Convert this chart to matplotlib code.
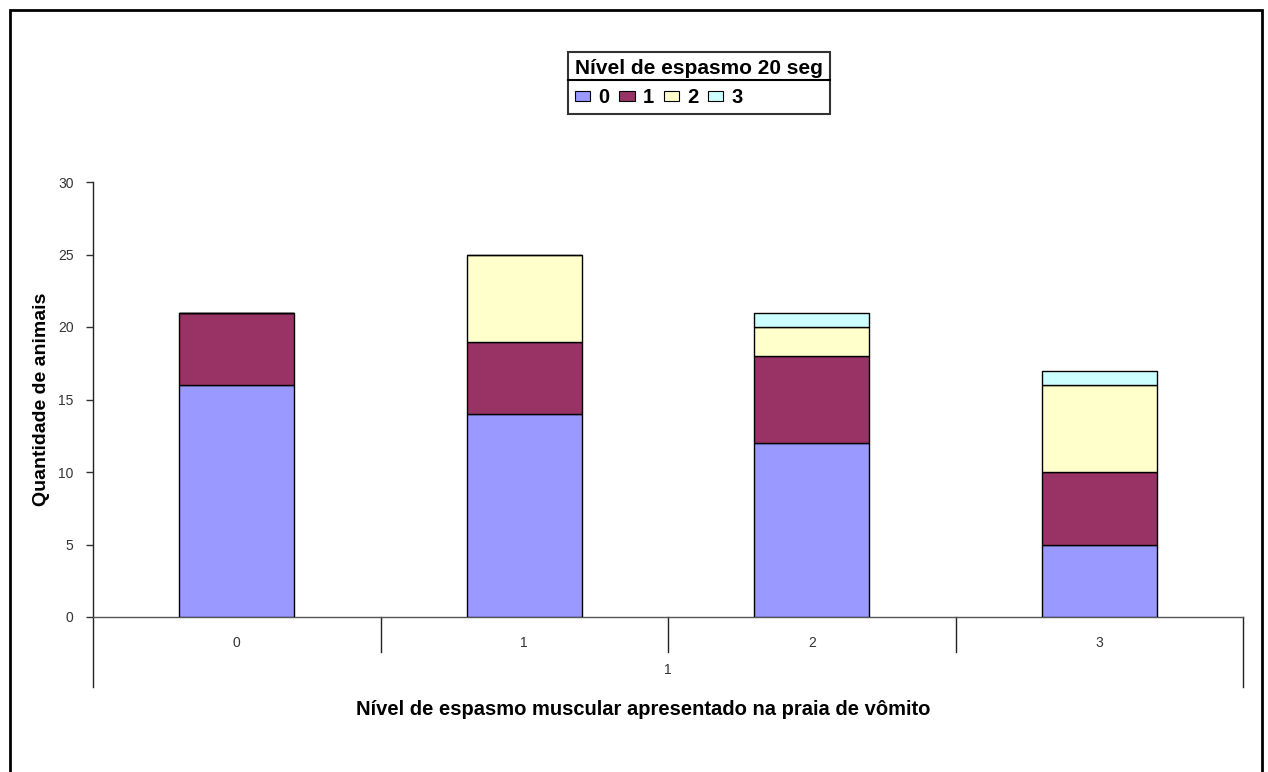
import matplotlib
matplotlib.use("Agg")
import matplotlib.pyplot as plt
from matplotlib.patches import Patch, Rectangle
from matplotlib.lines import Line2D
import numpy as np

plt.rcParams['font.family'] = ['Liberation Sans', 'DejaVu Sans']

categories = ['0', '1', '2', '3']
series_names = ['0', '1', '2', '3']
nivel_0 = [16, 14, 12, 5]
nivel_1 = [5, 5, 6, 5]
nivel_2 = [0, 6, 2, 6]
nivel_3 = [0, 0, 1, 1]
colors = ['#9999FF', '#993366', '#FFFFCC', '#CCFFFF']

fig = plt.figure(figsize=(12.68, 7.72), dpi=100)
W, H = 1268, 772
ax = fig.add_axes([93 / W, (H - 617) / H, 1150 / W, 435 / H])

x = np.arange(len(categories))
bottom = np.zeros(len(categories))
for vals, col in zip([nivel_0, nivel_1, nivel_2, nivel_3], colors):
    vals = np.array(vals, dtype=float)
    ax.bar(x, vals, width=0.4, bottom=bottom, color=col, edgecolor='black',
           linewidth=1.0, zorder=3)
    bottom += vals

ax.set_xlim(-0.5, 3.5)
ax.set_ylim(0, 30)
ax.set_yticks([0, 5, 10, 15, 20, 25, 30])
ax.tick_params(axis='y', length=5, width=1, colors='#333333', labelsize=10, pad=9)
ax.set_xticks(x)
ax.set_xticklabels(categories)
ax.tick_params(axis='x', length=0, pad=14, labelsize=10, labelcolor='#333333')

for s in ['top', 'right', 'left']:
    ax.spines[s].set_visible(False)
ax.spines['bottom'].set_color('#555555')
ax.spines['bottom'].set_linewidth(1.0)

# y axis line extended below zero (multi-level category axis)
ax.add_line(Line2D([0, 0], [1.0, -0.161], transform=ax.transAxes, color='#222222',
                   lw=1.0, clip_on=False))
ax.add_line(Line2D([1, 1], [0, -0.161], transform=ax.transAxes, color='#222222',
                   lw=1.0, clip_on=False))
for k in range(1, len(categories)):
    ax.add_line(Line2D([k / len(categories)] * 2, [0, -0.0805], transform=ax.transAxes,
                       color='#222222', lw=1.0, clip_on=False))
ax.text(0.5, -0.122, '1', transform=ax.transAxes, ha='center', va='center',
        fontsize=10, color='#333333')

ax.set_ylabel('Quantidade de animais', fontsize=14, fontweight='bold')
ax.yaxis.set_label_coords(-0.037, 0.5)
ax.set_xlabel('Nível de espasmo muscular apresentado na praia de vômito',
              fontsize=14.5, fontweight='bold')
ax.xaxis.set_label_coords(0.478, -0.19)

handles = [Patch(facecolor=c, edgecolor='black', linewidth=0.8) for c in colors]
leg = fig.legend(handles, series_names, ncol=4, loc='upper left',
                 bbox_to_anchor=(568 / W, 1 - 52 / H), title='Nível de espasmo 20 seg',
                 alignment='left', frameon=True, fancybox=False, borderaxespad=0,
                 prop={'weight': 'bold', 'size': 14.5},
                 title_fontproperties={'weight': 'bold', 'size': 15},
                 handlelength=0.75, handleheight=0.42, handletextpad=0.4,
                 columnspacing=0.5, borderpad=0.35)
leg.get_frame().set_edgecolor('black')
leg.get_frame().set_linewidth(1.5)

fig.canvas.draw()
r = fig.canvas.get_renderer()
lb = leg.get_window_extent(r)
tb = leg.get_title().get_window_extent(r)
ysep = (tb.y0 - 2) / fig.bbox.height
fig.add_artist(Line2D([lb.x0 / fig.bbox.width, lb.x1 / fig.bbox.width], [ysep, ysep],
                      transform=fig.transFigure, color='black', lw=1.5, zorder=10))

# outer frame of chart area
fig.add_artist(Rectangle((10 / W, -0.1), (1262 - 10) / W, 1 - 10 / H + 0.1,
                         transform=fig.transFigure, fill=False, edgecolor='black',
                         lw=2, clip_on=False, zorder=10))

fig.savefig('out.png', dpi=100)
